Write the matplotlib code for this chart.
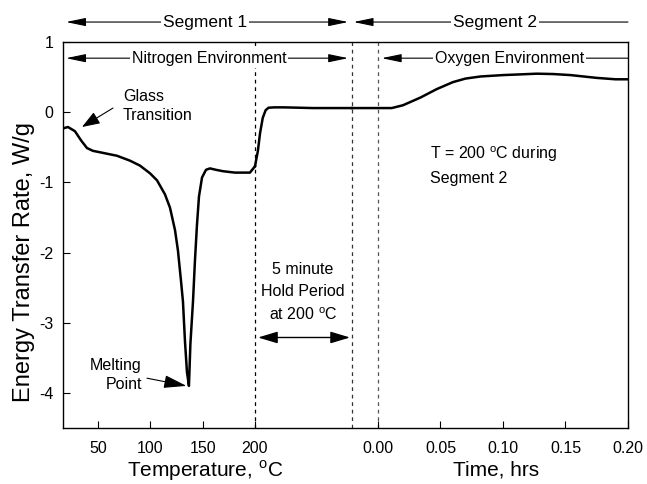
import matplotlib
matplotlib.use("Agg")
import matplotlib.pyplot as plt

plt.rcParams["font.family"] = ["Liberation Sans", "DejaVu Sans"]
plt.rcParams["mathtext.fontset"] = "custom"
plt.rcParams["mathtext.rm"] = "Liberation Sans"
plt.rcParams["axes.unicode_minus"] = False

# Segment 1, heating ramp in nitrogen (temperature in C, W/g)
temp_c = [16.6, 21.3, 28.0, 33.8, 39.5, 45.2, 51.9, 68.2, 80.6, 90.1, 99.7, 106.4,
          114.0, 118.8, 123.6, 126.4, 129.3, 131.2, 133.1, 135.0, 136.9, 138.3,
          140.8, 142.7, 144.6, 146.5, 149.4, 153.2, 157.0, 162.7, 169.4, 180.9,
          195.2, 200.0]
temp_w = [-0.23, -0.21, -0.27, -0.40, -0.51, -0.55, -0.57, -0.62, -0.69, -0.76, -0.87, -0.97,
          -1.17, -1.36, -1.68, -1.97, -2.40, -2.70, -3.26, -3.70, -3.90, -3.30,
          -2.69, -2.10, -1.60, -1.20, -0.93, -0.82, -0.80, -0.82, -0.84, -0.86,
          -0.86, -0.77]

# 5 minute hold at 200 C (minutes, W/g)
hold_min = [0.0, 0.15, 0.26, 0.40, 0.55, 0.70, 1.0, 1.5, 3.0, 5.0]
hold_w = [-0.77, -0.55, -0.30, -0.08, 0.03, 0.065, 0.07, 0.07, 0.06, 0.06]

# Segment 2, isothermal in oxygen (hours, W/g)
time_hr = [-0.0208, 0.0, 0.011, 0.02, 0.034, 0.047, 0.06, 0.07, 0.082, 0.10,
           0.114, 0.127, 0.14, 0.154, 0.175, 0.19, 0.20]
time_w = [0.06, 0.06, 0.06, 0.10, 0.21, 0.33, 0.43, 0.48, 0.51, 0.53,
          0.54, 0.55, 0.545, 0.53, 0.49, 0.47, 0.47]

temp_ticks = [50, 100, 150, 200]
time_ticks = [0.00, 0.05, 0.10, 0.15, 0.20]
y_ticks = [-4, -3, -2, -1, 0, 1]

# one shared x axis: temperature, then the hold, then time
HOLD_WIDTH = 92.7
def hold_u(m):
    return 200 + m / 5.0 * HOLD_WIDTH

def time_u(t):
    return 317.5 + t * 1194.3

fig = plt.figure(figsize=(6.47, 4.84), dpi=100)
ax = fig.add_axes([0.0974, 0.1157, 0.8732, 0.7973])

ax.plot(temp_c, temp_w, color="black", lw=1.8, solid_joinstyle="round")
ax.plot([hold_u(m) for m in hold_min], hold_w, color="black", lw=1.8)
ax.plot([time_u(t) for t in time_hr], time_w, color="black", lw=1.8)

for xv, c in [(200, "black"), (hold_u(5), "#333333"), (time_u(0), "#555555")]:
    ax.axvline(xv, color=c, lw=0.9, ls=(0, (3, 3)), zorder=1)

ax.set_xlim(16.6, time_u(0.20))
ax.set_ylim(-4.5, 1)
ax.set_xticks(temp_ticks + [time_u(t) for t in time_ticks])
ax.set_xticklabels([str(t) for t in temp_ticks] + [f"{t:.2f}" for t in time_ticks])
ax.set_yticks(y_ticks)
ax.tick_params(axis="x", direction="in", length=5, pad=9, labelsize=11.5)
ax.tick_params(axis="y", direction="in", length=5, pad=7, labelsize=11.5)
for s in ax.spines.values():
    s.set_linewidth(1.0)

ax.set_ylabel("Energy Transfer Rate, W/g", fontsize=17)
ax.yaxis.set_label_coords(-0.05, 0.43)
ax.annotate("Temperature, $^{\\mathrm{o}}$C", xy=(152, -0.11), xycoords=("data", "axes fraction"),
            ha="center", va="center", fontsize=15, annotation_clip=False)
ax.annotate("Time, hrs", xy=(time_u(0.0944), -0.11), xycoords=("data", "axes fraction"),
            ha="center", va="center", fontsize=15, annotation_clip=False)

def span(x0, x1, y, style):
    ax.annotate("", xy=(x1, y), xytext=(x0, y), annotation_clip=False,
                arrowprops=dict(arrowstyle=style, color="black", lw=0.8,
                                mutation_scale=10, shrinkA=0, shrinkB=0))

seg_style = "<|-|>,head_length=1.2,head_width=0.25"
one_style = "<|-,head_length=1.2,head_width=0.25"
txt_box = dict(fc="white", ec="none", pad=1.5)

# segment / environment bars
span(19.5, hold_u(4.8), 1.286, seg_style)
ax.text(152, 1.286, "Segment 1", ha="center", va="center", fontsize=12.5,
        bbox=txt_box, zorder=6, clip_on=False)
span(time_u(-0.0195), time_u(0.20), 1.286, one_style)
ax.text(time_u(0.0936), 1.286, "Segment 2", ha="center", va="center", fontsize=12.5,
        bbox=txt_box, zorder=6, clip_on=False)

span(19.5, hold_u(4.8), 0.771, seg_style)
ax.text(156, 0.771, "Nitrogen Environment", ha="center", va="center", fontsize=11.5,
        bbox=txt_box, zorder=6)
span(time_u(0.003), time_u(0.20), 0.771, one_style)
ax.text(time_u(0.105), 0.771, "Oxygen Environment", ha="center", va="center", fontsize=11.5,
        bbox=txt_box, zorder=6)

# glass transition / melting point callouts
ax.text(73.9, 0.09, "Glass\nTransition", ha="left", va="center", fontsize=11.5, linespacing=1.35)
ax.annotate("", xy=(34.7, -0.21), xytext=(64.3, 0.06),
            arrowprops=dict(arrowstyle="-|>,head_length=1.1,head_width=0.4", color="black",
                            lw=0.8, mutation_scale=10, shrinkA=0, shrinkB=0))
ax.text(92, -3.74, "Melting\nPoint", ha="right", va="center", fontsize=11.5,
        multialignment="right", linespacing=1.35)
ax.annotate("", xy=(134.5, -3.9), xytext=(96.8, -3.79),
            arrowprops=dict(arrowstyle="-|>,head_length=1.4,head_width=0.4", color="black",
                            lw=0.8, mutation_scale=10, shrinkA=0, shrinkB=0))

# hold period label
ax.text(245.9, -2.57, "5 minute\nHold Period\nat 200 $^{\\mathrm{o}}$C", ha="center", va="center",
        fontsize=11.5, linespacing=1.55)
ax.annotate("", xy=(290.8, -3.21), xytext=(202.9, -3.21),
            arrowprops=dict(arrowstyle="<|-|>,head_length=1.2,head_width=0.36", color="black",
                            lw=1.0, mutation_scale=10, shrinkA=0, shrinkB=0))

ax.text(time_u(0.0417), -0.76, "T = 200 $^{\\mathrm{o}}$C during\nSegment 2", ha="left",
        va="center", fontsize=11.5, linespacing=1.6)

fig.savefig("out.png", dpi=100)
